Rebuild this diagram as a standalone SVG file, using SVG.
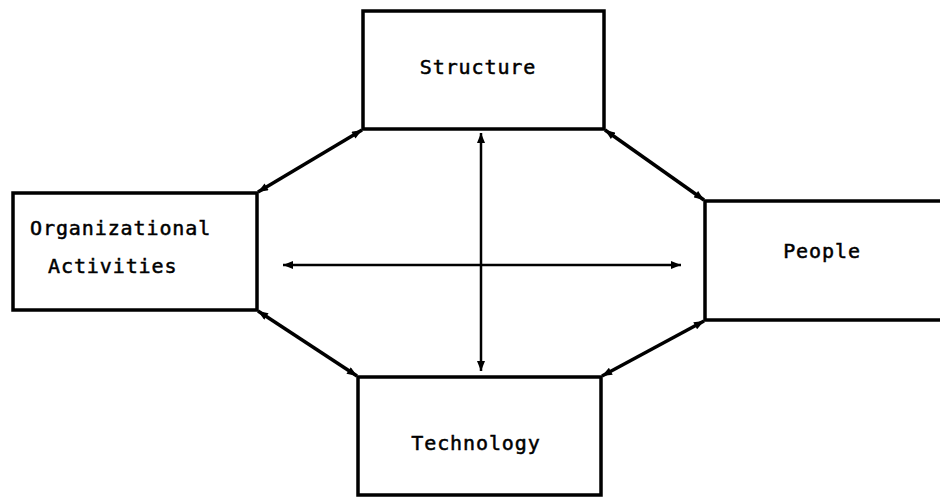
<svg xmlns="http://www.w3.org/2000/svg" width="940" height="497" viewBox="0 0 940 497">
<style>
.box{fill:#fff;stroke:#000;stroke-width:3.5}
.lbl{font-family:"DejaVu Sans Mono","Liberation Mono",monospace;font-size:20px;letter-spacing:0.9px;fill:#000;stroke:#000;stroke-width:0.5}
.con{stroke:#000;stroke-width:3.5;fill:none}
.axis{stroke:#000;stroke-width:2.5;fill:none}
</style>
<defs>
<marker id="ah" viewBox="0 0 10 8" refX="10" refY="4" markerWidth="11" markerHeight="8" markerUnits="userSpaceOnUse" orient="auto-start-reverse">
<path d="M0,0 L10,4 L0,8 Z" fill="#000"/>
</marker>
</defs>
<rect width="940" height="497" fill="#fff"/>
<g id="connectors">
<line class="con" x1="258" y1="192" x2="362" y2="130" marker-start="url(#ah)" marker-end="url(#ah)"/>
<line class="con" x1="605" y1="130" x2="704" y2="200" marker-start="url(#ah)" marker-end="url(#ah)"/>
<line class="con" x1="258" y1="311" x2="357" y2="376" marker-start="url(#ah)" marker-end="url(#ah)"/>
<line class="con" x1="602" y1="376" x2="704" y2="321" marker-start="url(#ah)" marker-end="url(#ah)"/>
<line class="axis" x1="481" y1="133" x2="481" y2="371" marker-start="url(#ah)" marker-end="url(#ah)"/>
<line class="axis" x1="283" y1="265" x2="681" y2="265" marker-start="url(#ah)" marker-end="url(#ah)"/>
</g>
<g id="structure">
<rect class="box" x="363" y="11" width="241" height="118"/>
<text class="lbl" x="478" y="74" text-anchor="middle">Structure</text>
</g>
<g id="technology">
<rect class="box" x="358" y="377" width="243" height="118"/>
<text class="lbl" x="476" y="450" text-anchor="middle">Technology</text>
</g>
<g id="organizational-activities">
<rect class="box" x="13" y="193" width="244" height="117"/>
<text class="lbl" x="30" y="235">Organizational</text>
<text class="lbl" x="48" y="273">Activities</text>
</g>
<g id="people">
<rect class="box" x="705" y="201" width="245" height="119"/>
<text class="lbl" x="822" y="258" text-anchor="middle">People</text>
</g>
</svg>
